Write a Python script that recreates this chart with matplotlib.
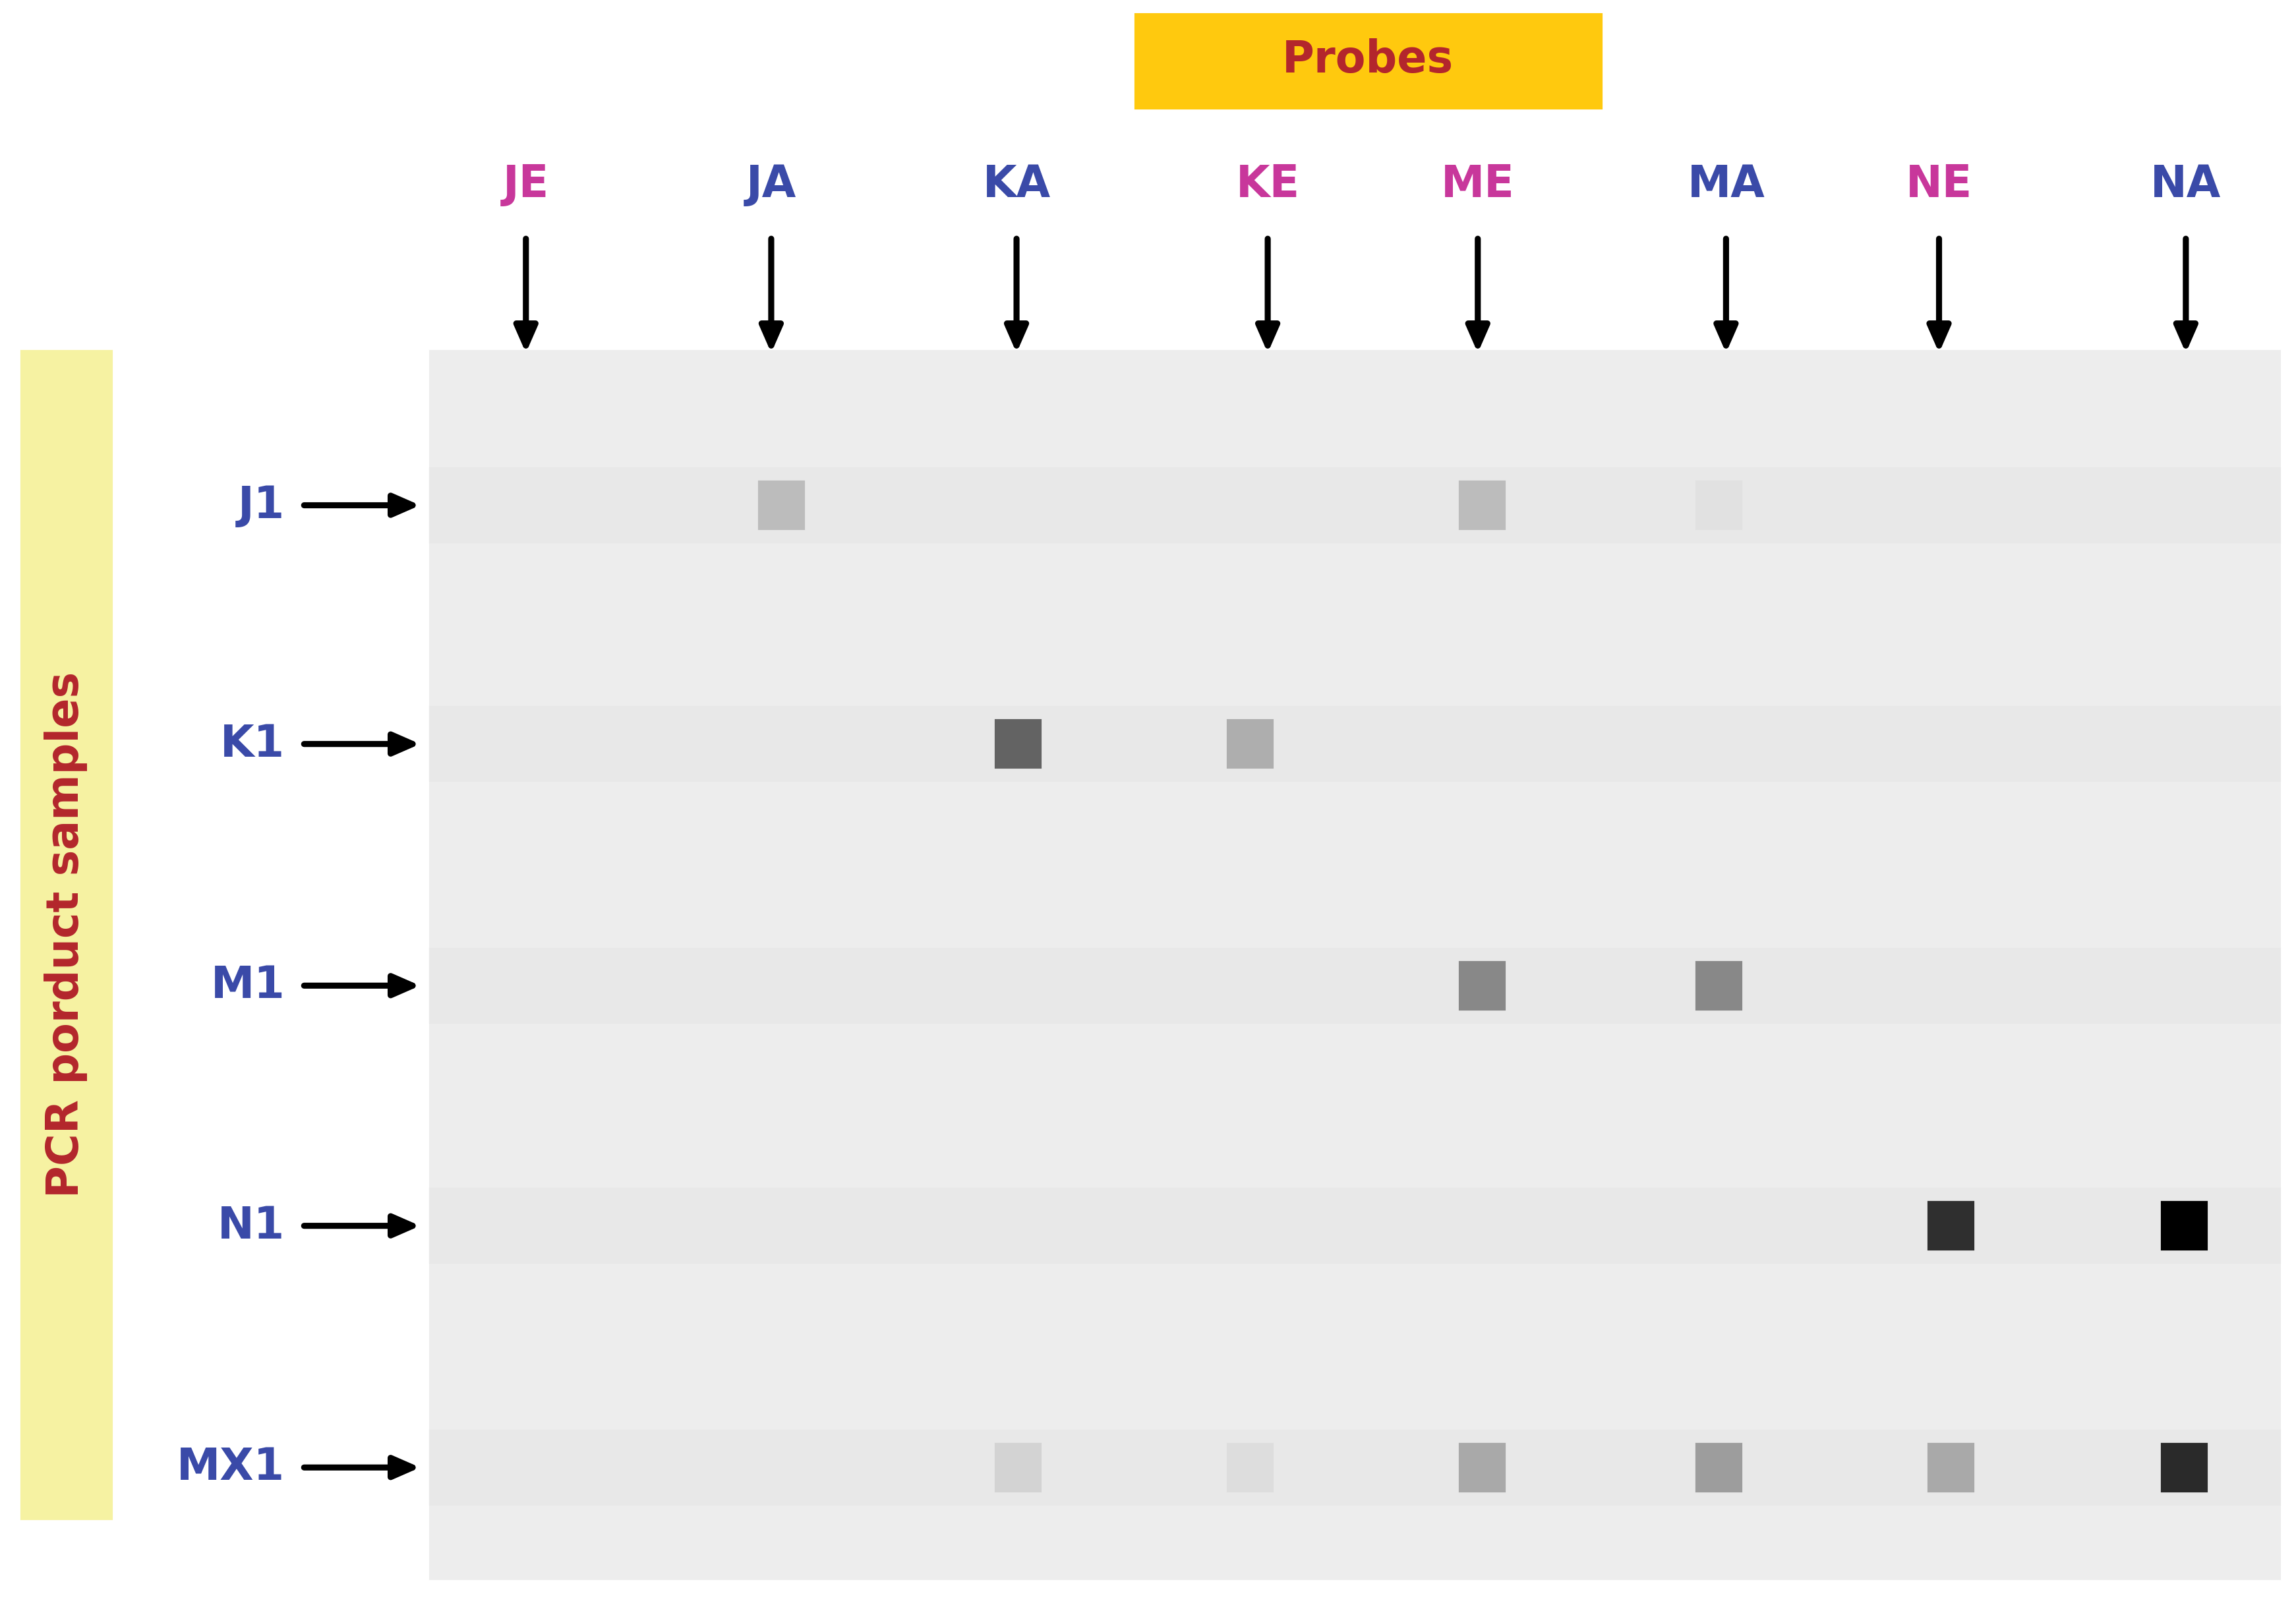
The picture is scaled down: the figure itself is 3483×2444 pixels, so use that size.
import matplotlib
matplotlib.use("Agg")
import matplotlib.pyplot as plt
from matplotlib.patches import Rectangle
import numpy as np

probes = ["JE", "JA", "KA", "KE", "ME", "MA", "NE", "NA"]
probe_colors = ["#C8379B", "#3A4AA8", "#3A4AA8", "#C8379B", "#C8379B", "#3A4AA8", "#C8379B", "#3A4AA8"]
samples = ["J1", "K1", "M1", "N1", "MX1"]
# spot darkness (0 = none, 1 = black), rows = samples, cols = probes
intensity = [
    [0.00, 0.20, 0.00, 0.00, 0.20, 0.04, 0.00, 0.00],
    [0.00, 0.00, 0.58, 0.26, 0.00, 0.00, 0.00, 0.00],
    [0.00, 0.00, 0.00, 0.00, 0.42, 0.42, 0.00, 0.00],
    [0.00, 0.00, 0.00, 0.00, 0.00, 0.00, 0.80, 1.00],
    [0.00, 0.00, 0.10, 0.06, 0.28, 0.33, 0.28, 0.82],
]

col_x = [358, 525, 692, 863, 1006, 1175, 1320, 1488]
spot_x = [358, 532, 693, 851, 1009, 1170, 1328, 1487]
row_y = [345, 508, 673, 837, 1002]

fig = plt.figure(figsize=(3483/300, 2444/300), dpi=300)
ax = fig.add_axes([0, 0, 1, 1])
ax.set_xlim(0, 1563)
ax.set_ylim(1100, 0)
ax.axis("off")

# blot background
ax.add_patch(Rectangle((293, 240), 1259, 838, color="#EDEDED", zorder=1))
for y in row_y:
    ax.add_patch(Rectangle((293, y - 25), 1259, 50, color="#E8E8E8", zorder=1.5))

# spots
for r, row in enumerate(intensity):
    for c, v in enumerate(row):
        if v <= 0:
            continue
        g = 0.92 * (1 - v)
        ax.add_patch(Rectangle((spot_x[c] - 15, row_y[r] - 16), 30, 32,
                               color=(g, g, g), zorder=2))

# probes header
ax.add_patch(Rectangle((773, 10), 317, 64, color="#FFC90E", zorder=1))
ax.text(931, 41, "Probes", ha="center", va="center", fontsize=16,
        fontweight="bold", color="#B3262C", zorder=3)

for name, col, x in zip(probes, probe_colors, col_x):
    ax.text(x, 126, name, ha="center", va="center", fontsize=16,
            fontweight="bold", color=col)
    ax.annotate("", xy=(x, 241), xytext=(x, 163),
                arrowprops=dict(arrowstyle="-|>,head_length=0.8,head_width=0.35",
                                color="black", lw=2.2, shrinkA=0, shrinkB=0))

# samples side box
ax.add_patch(Rectangle((15, 240), 61, 797, color="#F6F2A2", zorder=1))
ax.text(45, 638, "PCR porduct samples", rotation=90, ha="center", va="center",
        fontsize=16, fontweight="bold", color="#B3262C")

for name, y in zip(samples, row_y):
    ax.text(194, y, name, ha="right", va="center", fontsize=16,
            fontweight="bold", color="#3A4AA8")
    ax.annotate("", xy=(286, y), xytext=(207, y),
                arrowprops=dict(arrowstyle="-|>,head_length=0.8,head_width=0.35",
                                color="black", lw=2.2, shrinkA=0, shrinkB=0))

fig.savefig("out.png", dpi=300)
